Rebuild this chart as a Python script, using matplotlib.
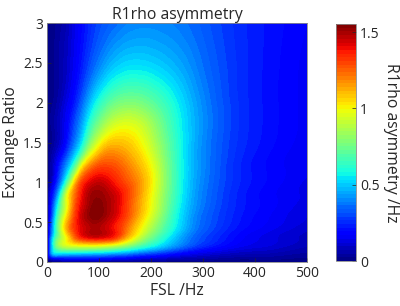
import numpy as np
import matplotlib
matplotlib.use("Agg")
import matplotlib.pyplot as plt
import matplotlib.tri as mtri

plt.rcParams['font.family'] = ['Open Sans', 'DejaVu Sans']

# FSL (Hz) grid columns and exchange-ratio grid rows
fsl = [0, 10, 20, 35, 50, 65, 80, 95, 110, 130, 160, 200, 250, 300, 400, 500]
ratio = [0, 0.05, 0.1, 0.16, 0.22, 0.3, 0.4, 0.55, 0.7, 0.85, 1.0, 1.2, 1.4, 1.7, 2.0, 2.5, 3.0]
asym = [
    [0, 0.00, 0.00, 0.00, 0.00, 0.00, 0.00, 0.00, 0.00, 0.00, 0.00, 0.00, 0.00, 0.00, 0.000, 0.00],
    [0, 0.17, 0.21, 0.22, 0.23, 0.23, 0.23, 0.22, 0.21, 0.19, 0.16, 0.12, 0.08, 0.06, 0.035, 0.02],
    [0, 0.42, 0.50, 0.48, 0.47, 0.46, 0.45, 0.44, 0.43, 0.40, 0.35, 0.27, 0.18, 0.12, 0.07, 0.04],
    [0, 0.48, 0.68, 0.76, 0.77, 0.77, 0.76, 0.75, 0.73, 0.69, 0.60, 0.47, 0.32, 0.20, 0.11, 0.06],
    [0, 0.50, 0.80, 0.95, 1.00, 1.03, 1.04, 1.04, 1.02, 0.97, 0.82, 0.62, 0.42, 0.27, 0.14, 0.08],
    [0, 0.46, 0.74, 0.96, 1.17, 1.32, 1.38, 1.40, 1.38, 1.31, 1.04, 0.74, 0.47, 0.30, 0.15, 0.09],
    [0, 0.38, 0.70, 1.05, 1.28, 1.41, 1.47, 1.49, 1.46, 1.38, 1.15, 0.84, 0.53, 0.33, 0.17, 0.10],
    [0, 0.32, 0.66, 1.00, 1.26, 1.43, 1.51, 1.54, 1.50, 1.42, 1.23, 0.93, 0.57, 0.35, 0.19, 0.12],
    [0, 0.26, 0.55, 0.90, 1.20, 1.40, 1.50, 1.55, 1.52, 1.45, 1.26, 0.98, 0.60, 0.37, 0.20, 0.13],
    [0, 0.19, 0.40, 0.85, 1.16, 1.36, 1.48, 1.52, 1.50, 1.44, 1.28, 1.00, 0.62, 0.38, 0.20, 0.14],
    [0, 0.10, 0.26, 0.58, 0.98, 1.28, 1.40, 1.45, 1.44, 1.37, 1.25, 1.02, 0.63, 0.39, 0.21, 0.14],
    [0, 0.07, 0.18, 0.38, 0.62, 0.95, 1.17, 1.27, 1.30, 1.28, 1.18, 0.99, 0.63, 0.40, 0.21, 0.15],
    [0, 0.04, 0.10, 0.22, 0.40, 0.60, 0.85, 1.02, 1.13, 1.16, 1.10, 0.93, 0.62, 0.40, 0.22, 0.15],
    [0, 0.03, 0.07, 0.15, 0.28, 0.42, 0.60, 0.75, 0.86, 0.95, 0.97, 0.85, 0.60, 0.41, 0.23, 0.16],
    [0, 0.02, 0.05, 0.12, 0.20, 0.32, 0.45, 0.57, 0.66, 0.74, 0.78, 0.72, 0.56, 0.40, 0.23, 0.16],
    [0, 0.015, 0.04, 0.08, 0.14, 0.21, 0.29, 0.36, 0.42, 0.48, 0.52, 0.51, 0.45, 0.36, 0.23, 0.16],
    [0, 0.01, 0.03, 0.06, 0.13, 0.18, 0.24, 0.29, 0.32, 0.35, 0.39, 0.40, 0.38, 0.33, 0.23, 0.17],
]
vmax = 1.553
xticks = [0, 100, 200, 300, 400, 500]
yticks = [0, 0.5, 1, 1.5, 2, 2.5, 3]
cticks = [0, 0.5, 1, 1.5]

W, R = np.meshgrid(np.array(fsl, float), np.array(ratio, float))
Z = np.array(asym, float)
nr, nc = Z.shape
tris = []
for i in range(nr - 1):
    for j in range(nc - 1):
        a = i * nc + j
        tris.append([a, a + 1, a + nc + 1])
        tris.append([a, a + nc + 1, a + nc])
xs, ys = 500.0, 3.0
tri_n = mtri.Triangulation(W.ravel() / xs, R.ravel() / ys, np.array(tris))
interp = mtri.CubicTriInterpolator(tri_n, Z.ravel(), kind='min_E')
refiner = mtri.UniformTriRefiner(tri_n)
tri_r, z_r = refiner.refine_field(Z.ravel(), triinterpolator=interp, subdiv=4)
z_r = np.clip(z_r, 0, vmax - 1e-4)
tri_plot = mtri.Triangulation(tri_r.x * xs, tri_r.y * ys, tri_r.triangles)

fig = plt.figure(figsize=(4.0, 3.06), dpi=100)
ax = fig.add_axes([0.1175, 0.1438, 0.65, 0.781])
levels = np.linspace(0, vmax, 65)
cs = ax.tricontourf(tri_plot, z_r, levels=levels, cmap='jet')
ax.set_xlim(0, 500)
ax.set_ylim(0, 3)
ax.set_xticks(xticks)
ax.set_xticklabels([str(t) for t in xticks])
ax.set_yticks(yticks)
ax.set_yticklabels(['0', '0.5', '1', '1.5', '2', '2.5', '3'])
ax.tick_params(direction='in', length=3, labelsize=10, colors='#262626', width=0.5, pad=3)
for s in ax.spines.values():
    s.set_color('#8a8a8a')
    s.set_linewidth(0.6)
ax.set_xlabel('FSL /Hz', fontsize=11.3, color='#262626', labelpad=1)
ax.set_ylabel('Exchange Ratio', fontsize=11.3, color='#262626', labelpad=3)
ax.set_title('R1rho asymmetry', fontsize=11.3, color='#262626', pad=3)

cax = fig.add_axes([0.84, 0.147, 0.05, 0.7745])
cb = fig.colorbar(cs, cax=cax, ticks=cticks)
cb.ax.set_yticklabels(['0', '0.5', '1', '1.5'])
cb.ax.tick_params(direction='in', length=3, labelsize=10, colors='#262626', width=0.5, pad=3)
cb.outline.set_edgecolor('#8a8a8a')
cb.outline.set_linewidth(0.6)
cb.set_label('R1rho asymmetry /Hz', rotation=-90, fontsize=11.3, color='#262626', labelpad=14)

fig.savefig('out.png', dpi=100)
